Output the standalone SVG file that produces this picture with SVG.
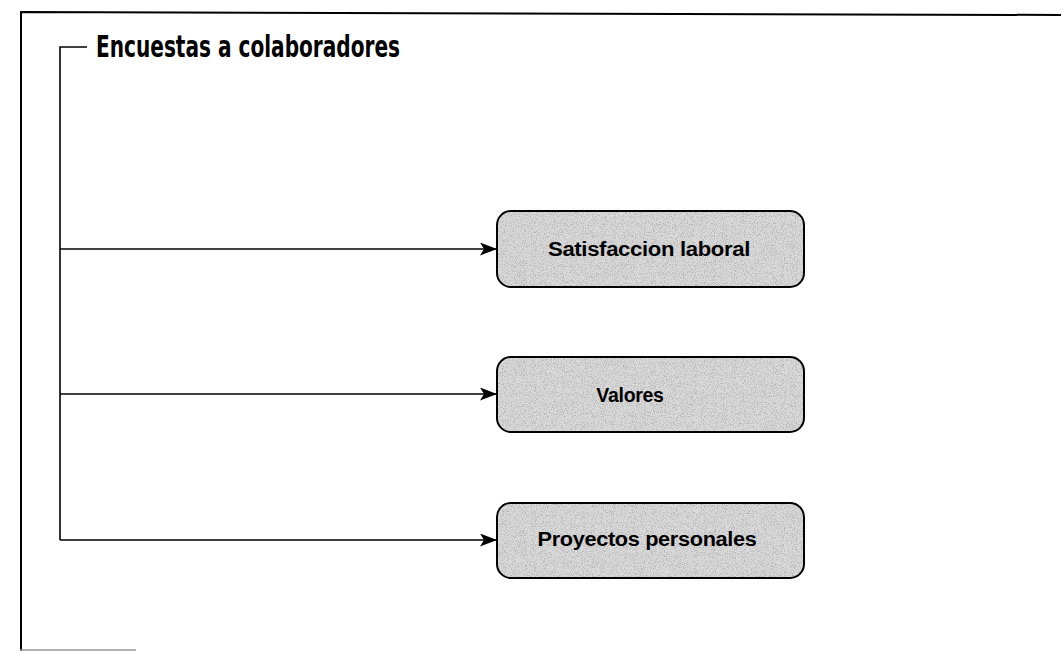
<svg xmlns="http://www.w3.org/2000/svg" width="1062" height="651" viewBox="0 0 1062 651">
  <style>
    .frame { stroke: #000; stroke-width: 2; fill: none; }
    .conn { stroke: #000; stroke-width: 1.6; fill: none; }
    .box { fill: url(#grain); stroke: #000; stroke-width: 2; }
    .title { font-family: "Liberation Sans Narrow", "DejaVu Sans Condensed", "Liberation Sans", sans-serif; font-weight: bold; font-size: 31px; fill: #000; }
    .label { font-family: "Liberation Sans", Arial, sans-serif; font-weight: bold; font-size: 19.5px; fill: #000; text-anchor: middle; letter-spacing: -0.3px; }
  </style>
  <defs>
    <marker id="arrow" viewBox="0 0 17 13" refX="17" refY="6.5" markerWidth="17" markerHeight="13" markerUnits="userSpaceOnUse" orient="auto">
      <path d="M0,0 L17,6.5 L0,13 L4,6.5 Z" fill="#000"/>
    </marker>
    <!-- speckled halftone fill for the boxes -->
    <filter id="speckle" x="0" y="0" width="100%" height="100%">
      <feTurbulence type="fractalNoise" baseFrequency="1.1" numOctaves="2" seed="7" result="n"/>
      <feColorMatrix in="n" type="matrix" values="0 0 0 0 0.45  0 0 0 0 0.45  0 0 0 0 0.45  0 0 0 -3.2 1.75" result="dots"/>
      <feComposite in="dots" in2="SourceGraphic" operator="in"/>
    </filter>
    <pattern id="grain" patternUnits="userSpaceOnUse" width="320" height="90">
      <rect width="320" height="90" fill="#dadada"/>
      <rect width="320" height="90" fill="#fff" filter="url(#speckle)"/>
    </pattern>
  </defs>

  <!-- page frame -->
  <g id="frame">
    <path class="frame" d="M21,651 L21,12 L1061,15"/>
    <line x1="20" y1="650" x2="136" y2="650" stroke="#999" stroke-width="1.5"/>
  </g>

  <!-- heading with bracket -->
  <g id="encuestas">
    <text class="title" x="96" y="57" textLength="304" lengthAdjust="spacingAndGlyphs">Encuestas a colaboradores</text>
  </g>

  <g id="connectors">
    <path class="conn" d="M87,47 L60,47 L60,540"/>
    <line class="conn" x1="60" y1="249" x2="497" y2="249" marker-end="url(#arrow)"/>
    <line class="conn" x1="60" y1="394" x2="497" y2="394" marker-end="url(#arrow)"/>
    <line class="conn" x1="60" y1="540" x2="497" y2="540" marker-end="url(#arrow)"/>
  </g>

  <g id="satisfaccion">
    <rect class="box" x="497" y="211" width="307" height="76" rx="14"/>
    <text class="label" x="649" y="256" textLength="202" lengthAdjust="spacingAndGlyphs">Satisfaccion laboral</text>
  </g>

  <g id="valores">
    <rect class="box" x="497" y="357" width="307" height="75" rx="14"/>
    <text class="label" x="630" y="402">Valores</text>
  </g>

  <g id="proyectos">
    <rect class="box" x="497" y="503" width="307" height="75" rx="14"/>
    <text class="label" x="647" y="546" textLength="219" lengthAdjust="spacingAndGlyphs">Proyectos personales</text>
  </g>
</svg>
